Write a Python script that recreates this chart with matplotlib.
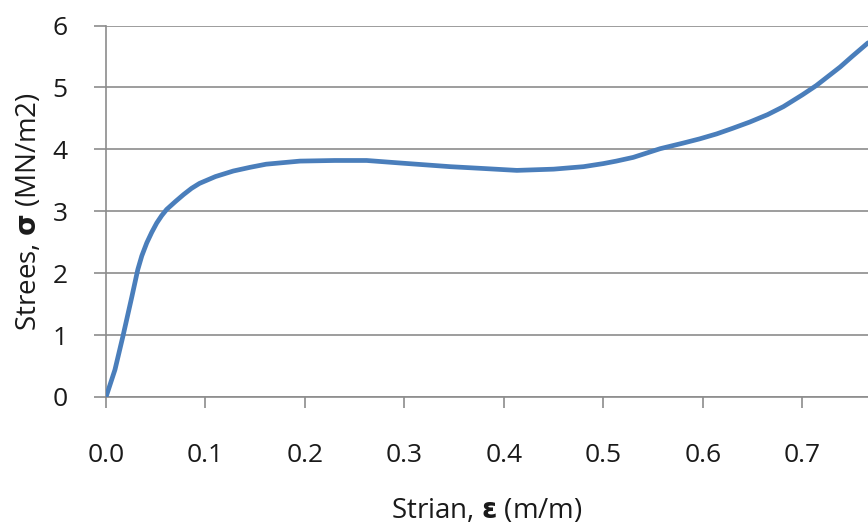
"""Stress-strain curve, recreated from the reference picture."""

import matplotlib

matplotlib.use("Agg")
import matplotlib.pyplot as plt

# values
strain = [0.0, 0.009, 0.017, 0.026, 0.032, 0.036, 0.041, 0.046, 0.051, 0.056,
          0.061, 0.070, 0.078, 0.086, 0.094, 0.110, 0.128, 0.145, 0.161, 0.195,
          0.230, 0.262, 0.295, 0.346, 0.380, 0.413, 0.450, 0.480, 0.500, 0.513,
          0.530, 0.557, 0.580, 0.597, 0.614, 0.630, 0.647, 0.665, 0.681, 0.700,
          0.714, 0.738, 0.750, 0.766]
stress = [0.0, 0.44, 0.98, 1.62, 2.06, 2.28, 2.49, 2.66, 2.81, 2.93,
          3.03, 3.16, 3.27, 3.37, 3.45, 3.56, 3.65, 3.71, 3.76, 3.81,
          3.82, 3.82, 3.78, 3.72, 3.69, 3.66, 3.68, 3.72, 3.77, 3.81,
          3.87, 4.01, 4.10, 4.17, 4.25, 4.34, 4.44, 4.56, 4.69, 4.88,
          5.03, 5.33, 5.50, 5.72]
x_ticks = [0.0, 0.1, 0.2, 0.3, 0.4, 0.5, 0.6, 0.7]
x_tick_labels = ["0.0", "0.1", "0.2", "0.3", "0.4", "0.5", "0.6", "0.7"]
y_ticks = [0, 1, 2, 3, 4, 5, 6]

plt.rcParams["font.family"] = ["Open Sans", "DejaVu Sans"]
plt.rcParams["mathtext.fontset"] = "custom"
plt.rcParams["mathtext.rm"] = "Open Sans"
plt.rcParams["mathtext.bf"] = "DejaVu Sans:bold"

GRID = "#8c8c8c"
TEXT = "#1a1a1a"

fig = plt.figure(figsize=(8.68, 5.27), dpi=100)
ax = fig.add_axes([106 / 868, 1 - 397 / 527, 1 - 106 / 868, (397 - 25.5) / 527])

ax.plot(strain, stress, color="#4a7ebb", linewidth=3.4, solid_capstyle="round",
        solid_joinstyle="round", zorder=3)

ax.set_xlim(0, 0.766)
ax.set_ylim(0, 6)
ax.set_xticks(x_ticks)
ax.set_xticklabels(x_tick_labels)
ax.set_yticks(y_ticks)

ax.yaxis.grid(True, color=GRID, linewidth=1.2)
ax.set_axisbelow(True)
for side in ("top", "right"):
    ax.spines[side].set_visible(False)
for side in ("left", "bottom"):
    ax.spines[side].set_color(GRID)
    ax.spines[side].set_linewidth(1.2)

ax.tick_params(axis="x", length=8, width=1.2, color=GRID, pad=25, labelsize=19,
               labelcolor=TEXT)
ax.tick_params(axis="y", length=8.5, width=1.2, color=GRID, pad=19, labelsize=19,
               labelcolor=TEXT)

ax.set_xlabel(r"Strian, $\mathbf{\varepsilon}$ (m/m)", fontsize=20, labelpad=21,
              color=TEXT)
ax.set_ylabel(r"Strees, $\mathbf{\sigma}$ (MN/m2)", fontsize=20, labelpad=7,
              color=TEXT)

fig.savefig("out.png", dpi=100)
